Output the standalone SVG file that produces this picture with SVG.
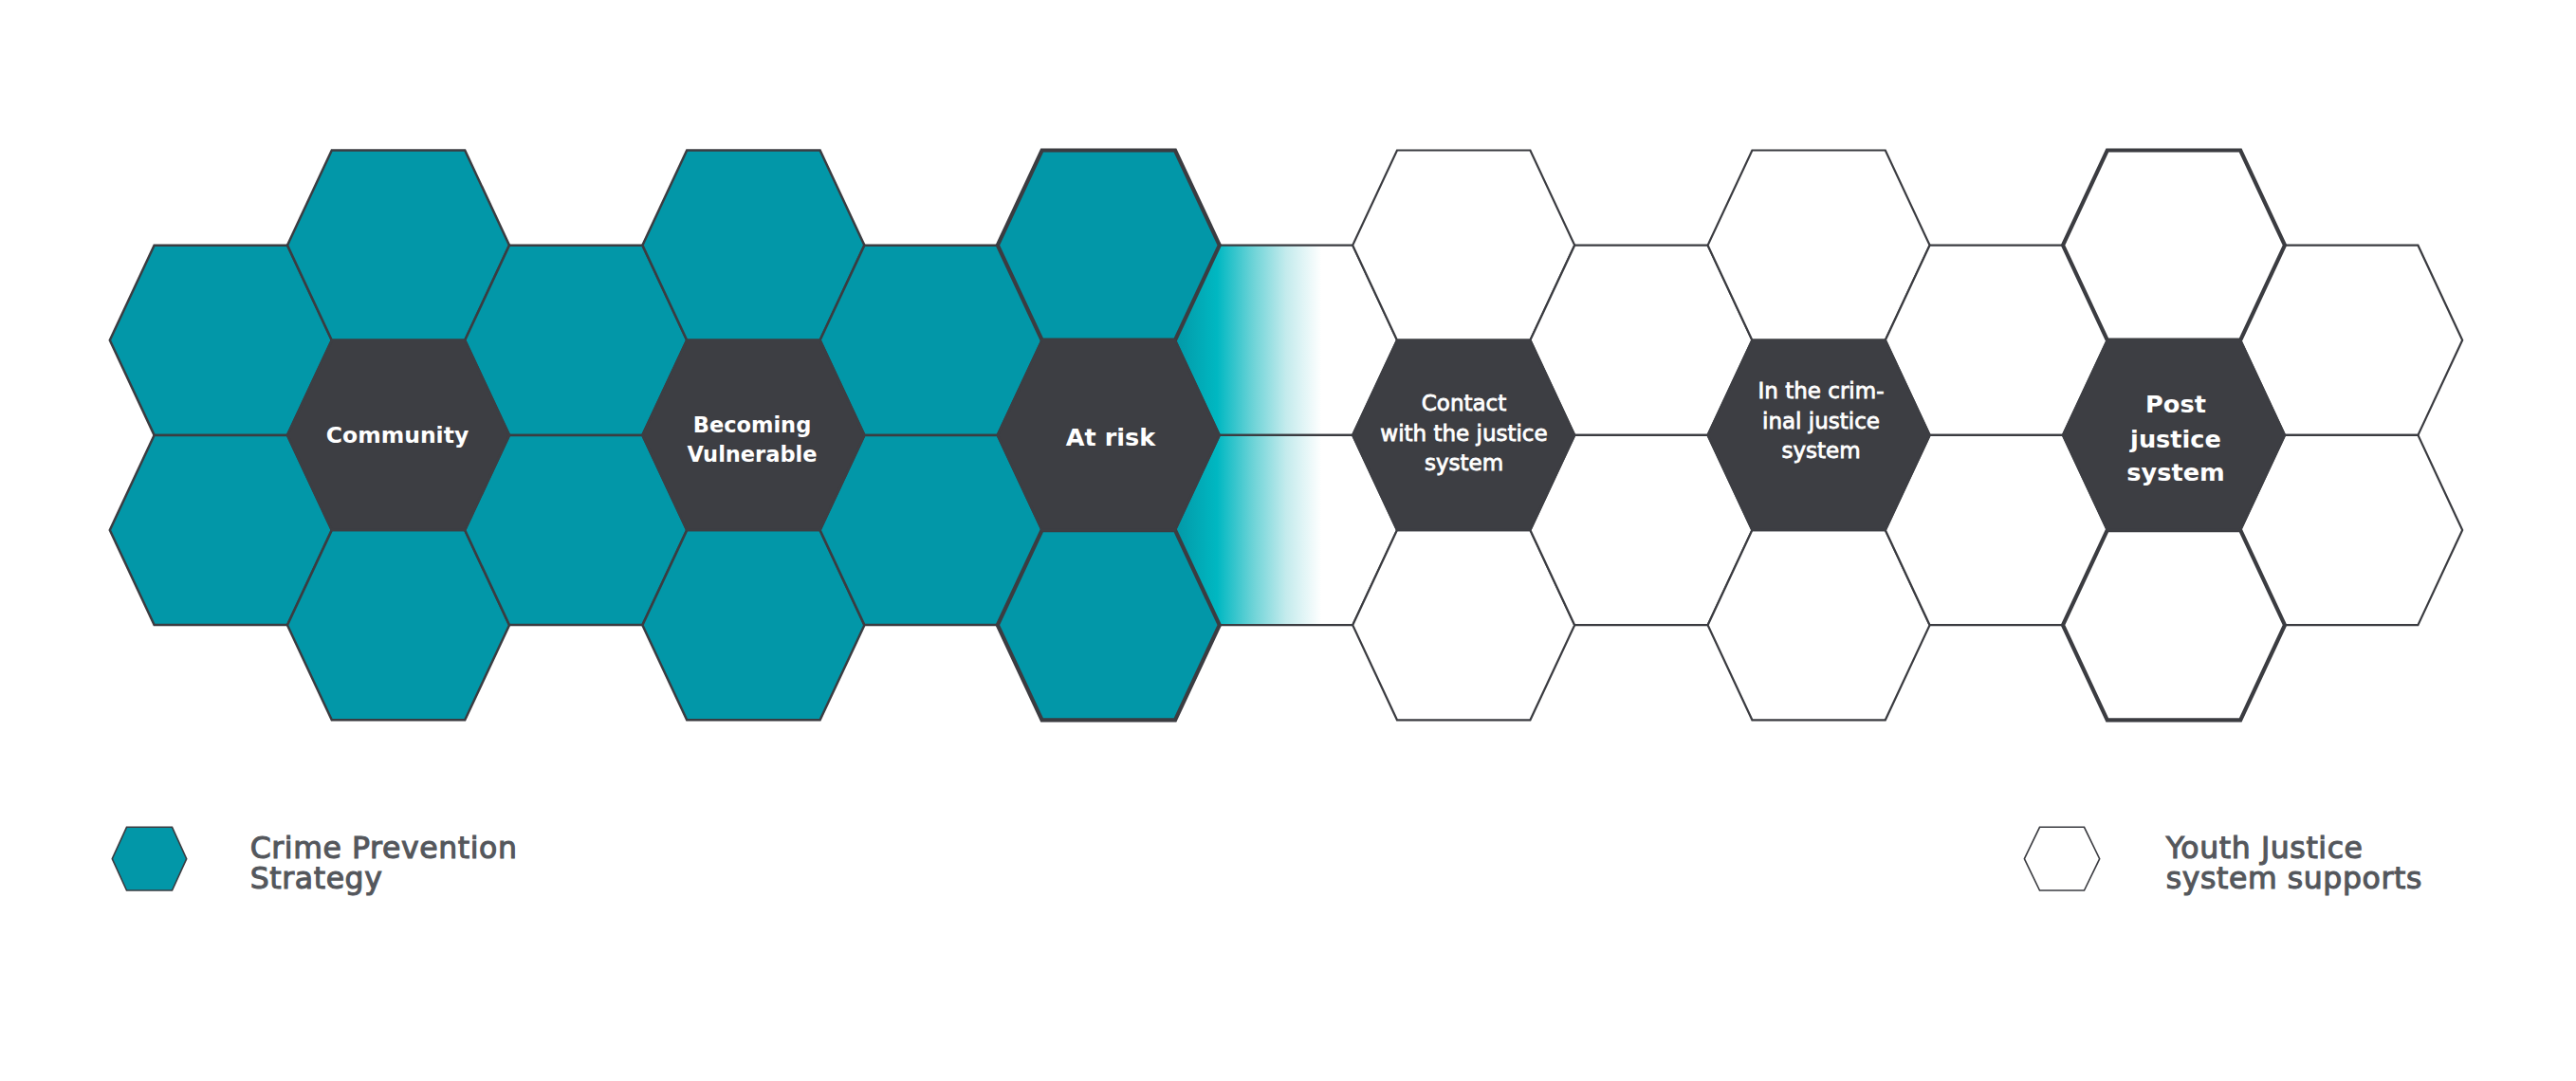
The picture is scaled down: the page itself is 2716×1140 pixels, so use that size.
<svg xmlns="http://www.w3.org/2000/svg" xmlns:xlink="http://www.w3.org/1999/xlink" width="2716" height="1140" viewBox="0 0 2716 1140">
  <style>
    .hx { stroke: #3b3c41; stroke-width: 2.5; stroke-linejoin: miter; }
    .teal { fill: #0297a8; }
    .white { fill: #ffffff; stroke-width: 2.2; }
    .fade { fill: url(#fadeGrad); stroke-width: 2.2; }
    .dark { fill: #3d3e43; stroke: #3d3e43; }
    .thick { stroke-width: 4.2; }
    .lb { font-family: "DejaVu Sans", "Liberation Sans", sans-serif; fill: #ffffff; text-anchor: middle; font-weight: 700; }
    .lm { font-family: "DejaVu Sans", "Liberation Sans", sans-serif; fill: #ffffff; text-anchor: middle; font-weight: 400; font-size: 23px; stroke: #ffffff; stroke-width: 0.8; }
    .lg { font-family: "DejaVu Sans", "Liberation Sans", sans-serif; fill: #54575c; font-size: 31.5px; letter-spacing: 0.6px; stroke: #54575c; stroke-width: 1.1; }
    .lghex { stroke: #3b3c41; stroke-width: 1.6; }
  </style>
  <defs>
    <polygon id="hex" points="-117,0 -70.2,-100.1 70.2,-100.1 117,0 70.2,100.1 -70.2,100.1"/>
    <linearGradient id="fadeGrad" gradientUnits="userSpaceOnUse" x1="-117" y1="0" x2="117" y2="0">
      <stop offset="0" stop-color="#0398a7"/>
      <stop offset="0.19" stop-color="#00b8c2"/>
      <stop offset="0.35" stop-color="#6cd3d7"/>
      <stop offset="0.5" stop-color="#c4ebed"/>
      <stop offset="0.66" stop-color="#ffffff"/>
      <stop offset="1" stop-color="#ffffff"/>
    </linearGradient>
  </defs>

  <!-- Column 1 -->
  <g id="c1r1"><use xlink:href="#hex" class="hx teal" x="232.8" y="358.8"/></g>
  <g id="c1r2"><use xlink:href="#hex" class="hx teal" x="232.8" y="559"/></g>
  <!-- Column 2 -->
  <g id="c2r1"><use xlink:href="#hex" class="hx teal" x="420" y="258.6"/></g>
  <g id="c2r3"><use xlink:href="#hex" class="hx teal" x="420" y="659.2"/></g>
  <!-- Column 3 -->
  <g id="c3r1"><use xlink:href="#hex" class="hx teal" x="607.2" y="358.8"/></g>
  <g id="c3r2"><use xlink:href="#hex" class="hx teal" x="607.2" y="559"/></g>
  <!-- Column 4 -->
  <g id="c4r1"><use xlink:href="#hex" class="hx teal" x="794.4" y="258.6"/></g>
  <g id="c4r3"><use xlink:href="#hex" class="hx teal" x="794.4" y="659.2"/></g>
  <!-- Column 5 -->
  <g id="c5r1"><use xlink:href="#hex" class="hx teal" x="981.6" y="358.8"/></g>
  <g id="c5r2"><use xlink:href="#hex" class="hx teal" x="981.6" y="559"/></g>
  <!-- Column 7 (fade) -->
  <g id="c7r1"><use xlink:href="#hex" class="hx fade" x="1356" y="358.8"/></g>
  <g id="c7r2"><use xlink:href="#hex" class="hx fade" x="1356" y="559"/></g>
  <!-- Column 8 -->
  <g id="c8r1"><use xlink:href="#hex" class="hx white" x="1543.2" y="258.6"/></g>
  <g id="c8r3"><use xlink:href="#hex" class="hx white" x="1543.2" y="659.2"/></g>
  <!-- Column 9 -->
  <g id="c9r1"><use xlink:href="#hex" class="hx white" x="1730.4" y="358.8"/></g>
  <g id="c9r2"><use xlink:href="#hex" class="hx white" x="1730.4" y="559"/></g>
  <!-- Column 10 -->
  <g id="c10r1"><use xlink:href="#hex" class="hx white" x="1917.6" y="258.6"/></g>
  <g id="c10r3"><use xlink:href="#hex" class="hx white" x="1917.6" y="659.2"/></g>
  <!-- Column 11 -->
  <g id="c11r1"><use xlink:href="#hex" class="hx white" x="2104.8" y="358.8"/></g>
  <g id="c11r2"><use xlink:href="#hex" class="hx white" x="2104.8" y="559"/></g>
  <!-- Column 13 -->
  <g id="c13r1"><use xlink:href="#hex" class="hx white" x="2479.2" y="358.8"/></g>
  <g id="c13r2"><use xlink:href="#hex" class="hx white" x="2479.2" y="559"/></g>
  <!-- Thick-bordered hexes -->
  <g id="c6r1"><use xlink:href="#hex" class="hx teal thick" x="1168.8" y="258.6"/></g>
  <g id="c6r3"><use xlink:href="#hex" class="hx teal thick" x="1168.8" y="659.2"/></g>
  <g id="c12r1"><use xlink:href="#hex" class="hx white thick" x="2292" y="258.6"/></g>
  <g id="c12r3"><use xlink:href="#hex" class="hx white thick" x="2292" y="659.2"/></g>

  <!-- Stage hexes -->
  <g id="community">
    <use xlink:href="#hex" class="hx dark" x="420" y="458.9"/>
    <text class="lb" x="419" y="466.7" font-size="23.5">Community</text>
  </g>
  <g id="becoming-vulnerable">
    <use xlink:href="#hex" class="hx dark" x="794.4" y="458.9"/>
    <text class="lb" x="793" y="456" font-size="22.5">Becoming</text>
    <text class="lb" x="793" y="486.7" font-size="22.5">Vulnerable</text>
  </g>
  <g id="at-risk">
    <use xlink:href="#hex" class="hx dark" x="1168.8" y="458.9"/>
    <text class="lb" x="1171" y="469.5" font-size="25.5">At risk</text>
  </g>
  <g id="contact">
    <use xlink:href="#hex" class="hx dark" x="1543.2" y="458.9"/>
    <text class="lm" x="1543.5" y="433.3">Contact</text>
    <text class="lm" x="1543.5" y="465">with the justice</text>
    <text class="lm" x="1543.5" y="496">system</text>
  </g>
  <g id="criminal-justice">
    <use xlink:href="#hex" class="hx dark" x="1917.6" y="458.9"/>
    <text class="lm" x="1920" y="420">In the crim-</text>
    <text class="lm" x="1920" y="451.7">inal justice</text>
    <text class="lm" x="1920" y="483">system</text>
  </g>
  <g id="post-justice">
    <use xlink:href="#hex" class="hx dark" x="2292" y="458.9"/>
    <text class="lb" x="2294" y="435" font-size="25.6">Post</text>
    <text class="lb" x="2294" y="471.5" font-size="25.6">justice</text>
    <text class="lb" x="2294" y="506.7" font-size="25.6">system</text>
  </g>

  <!-- Legend -->
  <g id="legend-crime-prevention">
    <polygon class="lghex" fill="#0297a8" points="118.3,905.7 133.5,872.3 181.5,872.3 196.7,905.7 181.5,939 133.5,939"/>
    <text class="lg" x="263.7" y="905">Crime Prevention</text>
    <text class="lg" x="263.7" y="936.7">Strategy</text>
  </g>
  <g id="legend-youth-justice">
    <polygon class="lghex" fill="#ffffff" points="2134.4,905.7 2150.5,872.3 2197.5,872.3 2213.7,905.7 2197.5,939 2150.5,939"/>
    <text class="lg" x="2283.7" y="905">Youth Justice</text>
    <text class="lg" x="2283.7" y="936.7">system supports</text>
  </g>

  <g id="connectors"></g>
</svg>
